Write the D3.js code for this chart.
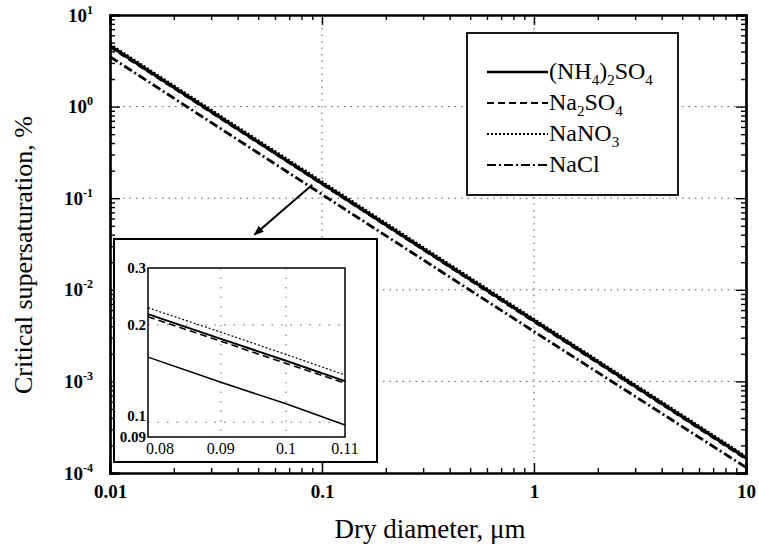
<!DOCTYPE html>
<html>
<head>
<meta charset="utf-8">
<script src="https://cdn.jsdelivr.net/npm/d3@7"></script>
<style>
  body { margin: 0; background: #fff; }
</style>
</head>
<body>
<svg id="chart" width="759" height="548"></svg>
<script>
// main curves: dry diameter (um) vs critical supersaturation (%)
const diameters = [0.01, 0.1, 1, 10];
const ammSulfate = [4.6, 0.145, 0.0046, 1.46e-4];
const sodSulfate = [4.5, 0.143, 0.0045, 1.43e-4];
const sodNitrate = [4.8, 0.152, 0.0048, 1.52e-4];
const sodChloride = [3.5, 0.11, 0.0035, 1.15e-4];

// inset (zoom on 0.08-0.11 um)
const insetDiameters = [0.08, 0.09, 0.1, 0.11];
const insetAmmSulfate = [0.216, 0.181, 0.155, 0.134];
const insetSodSulfate = [0.212, 0.178, 0.152, 0.132];
const insetSodNitrate = [0.226, 0.190, 0.162, 0.140];
const insetSodChloride = [0.159, 0.133, 0.114, 0.098];

const seriesNames = ['(NH4)2SO4', 'Na2SO4', 'NaNO3', 'NaCl'];
const xTicks = [0.01, 0.1, 1, 10];
const yTicks = [1e-4, 1e-3, 1e-2, 1e-1, 1, 10];
const insetXTicks = [0.08, 0.09, 0.1, 0.11];
const insetYTicks = [0.09, 0.1, 0.2, 0.3];
const arrowFrom = [0.09, 0.14];
const arrowTo = [0.048, 0.04];

const svg = d3.select('#chart');
const pLeft = 110, pRight = 746, pTop = 15, pBottom = 473;

const x = d3.scaleLog().domain([0.01, 10]).range([pLeft, pRight]);
const y = d3.scaleLog().domain([1e-4, 10]).range([pBottom, pTop]);

// line styles per series
const styles = [
  { dash: null, w: 2.6 },
  { dash: '7,4', w: 2.2 },
  { dash: '2,2', w: 1.8 },
  { dash: '9,3,2,3', w: 2.2 }
];

// minor tick values
function minors(lo, hi) {
  const out = [];
  for (let e = Math.round(Math.log10(lo)); e < Math.round(Math.log10(hi)); e++) {
    for (let k = 2; k <= 9; k++) out.push(k * Math.pow(10, e));
  }
  return out;
}

// grid
const grid = svg.append('g').attr('stroke', '#555').attr('stroke-dasharray', '1.5,5').attr('stroke-width', 1);
grid.selectAll('.gx').data([0.1, 1]).enter().append('line')
  .attr('x1', d => x(d)).attr('x2', d => x(d)).attr('y1', pTop).attr('y2', pBottom);
grid.selectAll('.gy').data([1e-3, 1e-2, 1e-1, 1]).enter().append('line')
  .attr('y1', d => y(d)).attr('y2', d => y(d)).attr('x1', pLeft).attr('x2', pRight);

// curves
svg.append('clipPath').attr('id', 'plotclip').append('rect')
  .attr('x', pLeft).attr('y', pTop).attr('width', pRight - pLeft).attr('height', pBottom - pTop);
const mainLine = d3.line().x(d => x(d[0])).y(d => y(d[1]));
const mainSeries = [ammSulfate, sodSulfate, sodNitrate, sodChloride];
svg.append('g').attr('clip-path', 'url(#plotclip)')
  .selectAll('path').data(mainSeries).enter().append('path')
  .attr('d', vals => mainLine(diameters.map((d, i) => [d, vals[i]])))
  .attr('fill', 'none').attr('stroke', '#000')
  .attr('stroke-width', (d, i) => styles[i].w + 0.6)
  .attr('stroke-dasharray', (d, i) => styles[i].dash);

// axes: inward ticks on all four sides
function addAxis(axisFn, scale, transform, ticks, size, labels) {
  const g = svg.append('g').attr('transform', transform)
    .call(axisFn(scale).tickValues(ticks).tickSize(-size).tickPadding(12)
      .tickFormat(labels ? null : () => ''));
  g.select('.domain').attr('stroke-width', 2.2);
  g.selectAll('.tick line').attr('stroke-width', 1.4);
  return g;
}
const xb = addAxis(d3.axisBottom, x, `translate(0,${pBottom})`, xTicks, 10, true);
addAxis(d3.axisBottom, x, `translate(0,${pBottom})`, minors(0.01, 10), 5, false);
addAxis(d3.axisTop, x, `translate(0,${pTop})`, xTicks, 10, false);
addAxis(d3.axisTop, x, `translate(0,${pTop})`, minors(0.01, 10), 5, false);
const yl = addAxis(d3.axisLeft, y, `translate(${pLeft},0)`, yTicks, 10, true);
addAxis(d3.axisLeft, y, `translate(${pLeft},0)`, minors(1e-4, 10), 5, false);
addAxis(d3.axisRight, y, `translate(${pRight},0)`, yTicks, 10, false);
addAxis(d3.axisRight, y, `translate(${pRight},0)`, minors(1e-4, 10), 5, false);

xb.selectAll('.tick text').attr('font-size', 19)
  .attr('fill', '#000').attr('font-weight', 'bold').text(d => String(d));
yl.selectAll('.tick text').attr('font-size', 19)
  .attr('fill', '#000').attr('font-weight', 'bold').attr('dx', -5)
  .each(function (d) {
    const t = d3.select(this).text('');
    t.append('tspan').text('10');
    t.append('tspan').attr('font-size', 12).attr('dy', -8).text(Math.round(Math.log10(d)));
  });

// axis titles
svg.append('text').attr('x', 430).attr('y', 538).attr('text-anchor', 'middle')
  .attr('font-size', 27).text('Dry diameter, \u03bcm');
svg.append('text').attr('transform', 'translate(32,255) rotate(-90)').attr('text-anchor', 'middle')
  .attr('font-size', 26).text('Critical supersaturation, %');

// legend
const lg = svg.append('g');
lg.append('rect').attr('x', 467).attr('y', 33).attr('width', 211).attr('height', 162)
  .attr('fill', '#fff').attr('stroke', '#000').attr('stroke-width', 1.8);
const legendRows = [
  [['(NH', 0], ['4', 1], [')', 0], ['2', 1], ['SO', 0], ['4', 1]],
  [['Na', 0], ['2', 1], ['SO', 0], ['4', 1]],
  [['NaNO', 0], ['3', 1]],
  [['NaCl', 0]]
];
seriesNames.forEach((name, i) => {
  const ry = 72 + i * 31;
  lg.append('line').attr('x1', 487).attr('x2', 548).attr('y1', ry).attr('y2', ry)
    .attr('stroke', '#000').attr('stroke-width', styles[i].w)
    .attr('stroke-dasharray', styles[i].dash);
  const t = lg.append('text').attr('x', 549).attr('y', ry + 7).attr('font-size', 24);
  legendRows[i].forEach(([s, sub], j) => {
    const dy = sub ? 6 : (j > 0 ? -6 : 0);
    t.append('tspan').attr('font-size', sub ? 15 : 24).attr('dy', dy).text(s);
  });
});

// inset
const ib = { x0: 114, x1: 377, y0: 239, y1: 462 };
const ip = { x0: 148, x1: 345, y0: 268, y1: 437 };
svg.append('rect').attr('x', ib.x0).attr('y', ib.y0).attr('width', ib.x1 - ib.x0).attr('height', ib.y1 - ib.y0)
  .attr('fill', '#fff').attr('stroke', '#000').attr('stroke-width', 2);
const ix = d3.scaleLog().domain([0.08, 0.11]).range([ip.x0, ip.x1]);
const iy = d3.scaleLog().domain([0.09, 0.3]).range([ip.y1, ip.y0]);
const ig = svg.append('g');
const igrid = ig.append('g').attr('stroke', '#666').attr('stroke-dasharray', '1.5,8');
igrid.selectAll('.vx').data([0.09, 0.1]).enter().append('line')
  .attr('x1', d => ix(d)).attr('x2', d => ix(d)).attr('y1', ip.y0).attr('y2', ip.y1);
igrid.selectAll('.hy').data([0.1, 0.2]).enter().append('line')
  .attr('y1', d => iy(d)).attr('y2', d => iy(d)).attr('x1', ip.x0).attr('x2', ip.x1);
ig.append('rect').attr('x', ip.x0).attr('y', ip.y0).attr('width', ip.x1 - ip.x0).attr('height', ip.y1 - ip.y0)
  .attr('fill', 'none').attr('stroke', '#000').attr('stroke-width', 1.5);
const insetLine = d3.line().x(d => ix(d[0])).y(d => iy(d[1]));
ig.selectAll('.il').data([insetAmmSulfate, insetSodSulfate, insetSodNitrate, insetSodChloride]).enter()
  .append('path')
  .attr('d', vals => insetLine(insetDiameters.map((d, i) => [d, vals[i]])))
  .attr('fill', 'none').attr('stroke', '#000')
  .attr('stroke-width', (d, i) => i === 3 ? 1.5 : styles[i].w - 0.6)
  .attr('stroke-dasharray', (d, i) => i === 3 ? null : styles[i].dash);
ig.selectAll('.ixl').data(insetXTicks).enter().append('text')
  .attr('x', d => ix(d) + (d === 0.08 ? 12 : 0)).attr('y', ip.y1 + 17).attr('text-anchor', 'middle')
  .attr('font-size', 16).text(d => String(d));
ig.selectAll('.iyl').data(insetYTicks).enter().append('text')
  .attr('x', ip.x0 - 2).attr('y', d => iy(d) + (d === 0.09 ? 5 : (d === 0.1 ? -1 : 5)))
  .attr('text-anchor', 'end')
  .attr('font-size', 15).attr('font-weight', 'bold').text(d => String(d));

// arrow
svg.append('defs').append('marker').attr('id', 'ah').attr('viewBox', '0 0 10 10')
  .attr('refX', 9).attr('refY', 5).attr('markerWidth', 5).attr('markerHeight', 5)
  .attr('orient', 'auto').append('path').attr('d', 'M0,1 L10,5 L0,9 Z').attr('fill', '#000');
svg.append('line').attr('x1', x(arrowFrom[0])).attr('y1', y(arrowFrom[1]))
  .attr('x2', x(arrowTo[0])).attr('y2', y(arrowTo[1]))
  .attr('stroke', '#000').attr('stroke-width', 2).attr('marker-end', 'url(#ah)');

// serif typeface everywhere
svg.selectAll('text').style('font-family', '"Liberation Serif"');
</script>
</body>
</html>
